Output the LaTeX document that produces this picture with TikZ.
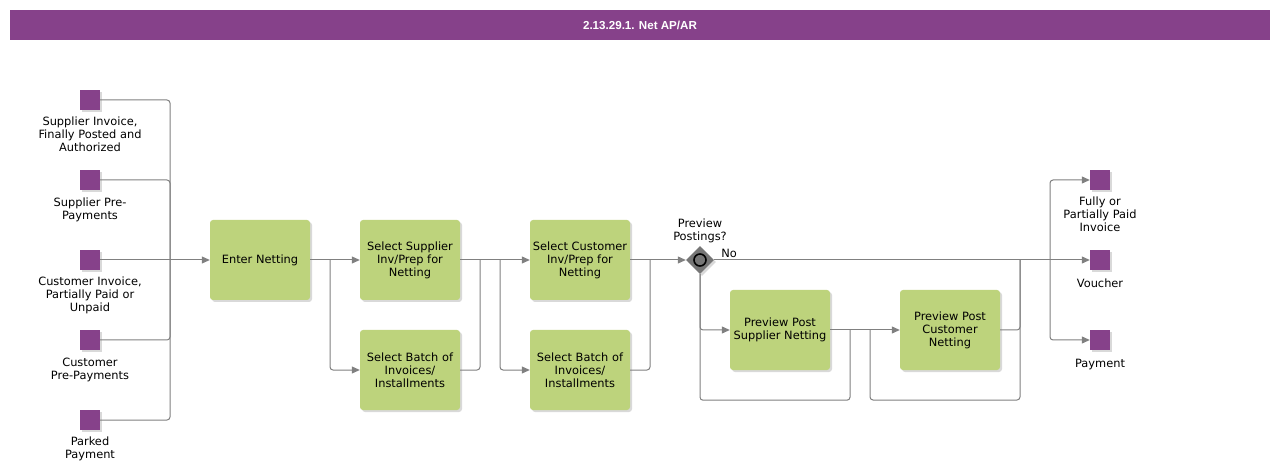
\documentclass[tikz,border=0pt]{standalone}
\usepackage{fontspec}
\setmainfont{DejaVu Sans}
\newfontfamily\titlefont{Liberation Sans}
\usetikzlibrary{positioning,shadows,shapes.geometric,arrows.meta}

\definecolor{netpurple}{RGB}{134,65,138}
\definecolor{netgreen}{RGB}{189,211,124}
\definecolor{netgray}{RGB}{128,128,128}
\definecolor{gwgray}{RGB}{118,118,118}

\tikzset{
  netshadow/.style={drop shadow={shadow xshift=2pt,shadow yshift=-2pt,opacity=0.3}},
  task/.style={fill=netgreen,rounded corners=3pt,minimum width=100pt,minimum height=80pt,
    align=center,inner sep=2pt,font=\fontsize{11.4}{13}\selectfont,netshadow},
  doc/.style={fill=netpurple,minimum size=20pt,inner sep=0pt,netshadow},
  gate/.style={diamond,fill=gwgray,minimum size=28pt,inner sep=0pt,netshadow},
  lbl/.style={align=center,inner sep=0pt,font=\fontsize{11.4}{13}\selectfont},
  conn/.style={draw=netgray,line width=1pt,rounded corners=3pt},
  arr/.style={conn,-{Triangle[length=8pt,width=7pt]}},
}

\begin{document}
\begin{tikzpicture}[x=1pt,y=-1pt]
\useasboundingbox (0,0) rectangle (1280,470);

% Title bar
\node[fill=netpurple,minimum width=1260pt,minimum height=30pt,text=white,
  font=\titlefont\bfseries\fontsize{11.6}{13}\selectfont] (title) at (640,25) {2.13.29.1. Net AP/AR};

% Inputs
\node[doc] (supinv) at (90,100) {};
\node[lbl,below=6pt of supinv] {Supplier Invoice,\\Finally Posted and\\Authorized};
\node[doc] (supprep) at (90,180) {};
\node[lbl,below=7pt of supprep] {Supplier Pre-\\Payments};
\node[doc] (custinv) at (90,260) {};
\node[lbl,below=6pt of custinv] {Customer Invoice,\\Partially Paid or\\Unpaid};
\node[doc] (custprep) at (90,340) {};
\node[lbl,below=8pt of custprep] {Customer\\Pre-Payments};
\node[doc] (parked) at (90,420) {};
\node[lbl,below=6pt of parked] {Parked\\Payment};

% Tasks
\node[task] (enter) at (260,260) {Enter Netting};
\node[task] (selsup) at (410,260) {Select Supplier\\Inv/Prep for\\Netting};
\node[task] (batchsup) at (410,370) {Select Batch of\\Invoices/\\Installments};
\node[task] (selcust) at (580,260) {Select Customer\\Inv/Prep for\\Netting};
\node[task] (batchcust) at (580,370) {Select Batch of\\Invoices/\\Installments};
\node[task] (prevsup) at (780,330) {Preview Post\\Supplier Netting};
\node[task] (prevcust) at (950,330) {Preview Post\\Customer\\Netting};

% Gateway
\node[gate] (gw) at (700,260) {};
\draw[line width=1.6pt,fill=gwgray] (gw) circle (6pt);
\node[lbl,above=3pt of gw] (gwq) {Preview\\Postings?};
\node[lbl] (nolbl) at (729,253) {No};

% Outputs
\node[doc] (paidinv) at (1100,180) {};
\node[lbl,below=6pt of paidinv] {Fully or\\Partially Paid\\Invoice};
\node[doc] (voucher) at (1100,260) {};
\node[lbl,below=8pt of voucher] {Voucher};
\node[doc] (payment) at (1100,340) {};
\node[lbl,below=9pt of payment] {Payment};

% Junctions
\coordinate (jin) at (170,260);
\coordinate (splitA) at (330,260);
\coordinate (mergeA) at (480,260);
\coordinate (splitB) at (500,260);
\coordinate (mergeB) at (650,260);
\coordinate (mergeC) at (850,330);
\coordinate (splitC) at (870,330);
\coordinate (mergeD) at (1020,260);
\coordinate (splitD) at (1050,260);

% Inputs to Enter Netting
\foreach \n in {supinv,supprep,custprep,parked}
  \draw[conn] (\n.east) -| (jin);
\draw[conn] (custinv.east) -- (jin);
\draw[arr] (jin) -- (enter);

% Selection
\draw[arr] (enter) -- (selsup);
\draw[arr] (splitA) |- (batchsup);
\draw[conn] (batchsup.east) -| (mergeA);
\draw[arr] (selsup) -- (selcust);
\draw[arr] (splitB) |- (batchcust);
\draw[conn] (batchcust.east) -| (mergeB);
\draw[arr] (selcust) -- (gw);

% Preview
\draw[conn] (gw.east) -- (splitD);
\draw[arr] (gw.south) |- (prevsup);
\draw[conn] (gw.south) -- ++(0,126) -| (mergeC);
\draw[arr] (prevsup) -- (prevcust);
\draw[conn] (splitC) -- ++(0,70) -| (mergeD);
\draw[conn] (prevcust.east) -| (mergeD);

% Outputs
\draw[arr] (splitD) |- (paidinv);
\draw[arr] (splitD) -- (voucher);
\draw[arr] (splitD) |- (payment);

\end{tikzpicture}
\end{document}
